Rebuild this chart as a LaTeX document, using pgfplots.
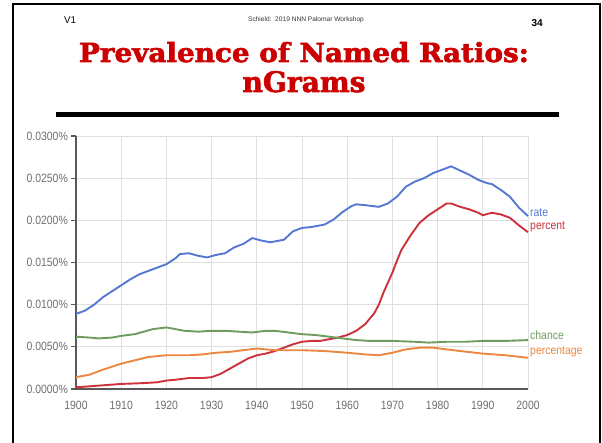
\documentclass[border=0pt]{standalone}
\usepackage{pgfplots}
\pgfplotsset{compat=1.18}
\usepackage{fontspec}
\setmainfont{Liberation Sans}
\newfontfamily\narrowfont{Liberation Sans}[FakeStretch=0.87]
\newfontfamily\titlefont{DejaVu Serif}[BoldFeatures={FakeBold=2.2}]
\definecolor{cRate}{RGB}{85,120,210}
\definecolor{cPercent}{RGB}{205,50,60}
\definecolor{cChance}{RGB}{110,155,95}
\definecolor{cPercentage}{RGB}{235,135,65}
\definecolor{titlered}{RGB}{204,0,0}
\definecolor{tickgray}{RGB}{110,110,110}
\begin{document}
\begin{tikzpicture}
\useasboundingbox (0,0) rectangle (602pt,-443pt);
% slide frame
\draw[line width=2.6pt] (13pt,-443pt) -- (13pt,-4pt) -- (600pt,-4pt) -- (600pt,-443pt);
% header
\node[anchor=base west, inner sep=0pt, font=\fontsize{9.8}{10}\selectfont] at (64pt,-24pt) {V1};
\node[anchor=base, inner sep=0pt, text=black!80, font=\fontsize{6.6}{7}\selectfont] at (306pt,-22pt) {Schield:\ \ 2019 NNN Palomar Workshop};
\node[anchor=base east, inner sep=0pt, font=\fontsize{10}{10}\bfseries\selectfont] at (543pt,-27pt) {34};
% title
\node[anchor=base, inner sep=0pt, text=titlered] at (304pt,-62pt) {\resizebox{450pt}{20pt}{\titlefont\bfseries Prevalence of Named Ratios:}};
\node[anchor=base, inner sep=0pt, text=titlered] at (304pt,-92pt) {\resizebox{123pt}{21pt}{\titlefont\bfseries nGrams}};
% rule
\fill (56pt,-112pt) rectangle (559pt,-117pt);
\begin{axis}[
  at={(76pt,-389pt)}, anchor=south west,
  scale only axis, width=452pt, height=253pt,
  xmin=1900, xmax=2000, ymin=0, ymax=300,
  axis x line=bottom, axis y line=left,
  axis line style={draw=gray!70!black, line width=1.3pt, -},
  xtick={1900,1910,...,2000},
  xticklabels={1900,1910,1920,1930,1940,1950,1960,1970,1980,1990,2000},
  ytick={0,50,100,150,200,250,300},
  yticklabels={0.0000\%,0.0050\%,0.0100\%,0.0150\%,0.0200\%,0.0250\%,0.0300\%},
  xmajorgrids, ymajorgrids,
  major grid style={draw=gray!25, line width=0.9pt},
  tick style={draw=gray!70!black, line width=1.2pt},
  x tick style={draw=none},
  major tick length=5pt,
  tick align=outside,
  ticklabel style={text=tickgray, font=\narrowfont\fontsize{12}{12}\selectfont},
  yticklabel style={inner sep=1pt, xshift=-2pt},
  xticklabel style={inner sep=2pt, yshift=-5pt},
  clip=false,
  every axis plot/.append style={line width=1.9pt, line join=round},
]
\addplot[cRate] coordinates {
(1900,89)(1902,93)(1904,100)(1906,109)(1908,116)(1910,123)(1912,130)(1914,136)(1916,140)(1918,144)(1920,148)(1922,155)(1923,160)(1925,161)(1927,158)(1929,156)(1931,159)(1933,161)(1935,168)(1937,172)(1939,179)(1941,176)(1943,174)(1945,176)(1946,177)(1948,187)(1950,191)(1952,192)(1955,195)(1957,201)(1959,210)(1961,217)(1962,219)(1964,218)(1967,216)(1969,220)(1971,228)(1973,240)(1975,246)(1977,250)(1979,256)(1981,260)(1983,264)(1985,259)(1987,254)(1989,248)(1991,244)(1992,243)(1994,236)(1996,228)(1998,215)(2000,205)
};
\addplot[cPercent] coordinates {
(1900,2)(1905,4)(1910,6)(1915,7)(1918,8)(1920,10)(1922,11)(1925,13)(1928,13)(1930,14)(1932,18)(1934,24)(1936,30)(1938,36)(1940,40)(1942,42)(1944,45)(1946,49)(1948,53)(1950,56)(1952,57)(1954,57)(1956,59)(1958,61)(1960,64)(1962,69)(1964,77)(1966,90)(1967,100)(1968,114)(1969,126)(1970,138)(1971,152)(1972,165)(1974,182)(1976,197)(1978,206)(1980,213)(1982,220)(1983,220)(1985,216)(1987,213)(1989,209)(1990,206)(1992,209)(1994,207)(1996,203)(1998,194)(2000,186)
};
\addplot[cChance] coordinates {
(1900,62)(1903,61)(1905,60)(1908,61)(1910,63)(1913,65)(1915,68)(1917,71)(1920,73)(1922,71)(1924,69)(1927,68)(1930,69)(1933,69)(1936,68)(1939,67)(1942,69)(1944,69)(1947,67)(1950,65)(1953,64)(1956,62)(1959,60)(1962,58)(1965,57)(1970,57)(1975,56)(1978,55)(1982,56)(1986,56)(1990,57)(1995,57)(2000,58)
};
\addplot[cPercentage] coordinates {
(1900,14)(1903,17)(1906,23)(1910,30)(1913,34)(1916,38)(1920,40)(1925,40)(1928,41)(1931,43)(1934,44)(1937,46)(1940,48)(1942,47)(1944,46)(1947,46)(1950,46)(1955,45)(1960,43)(1964,41)(1967,40)(1970,43)(1973,47)(1976,49)(1979,49)(1982,47)(1985,45)(1990,42)(1995,40)(2000,37)
};
\end{axis}
% series labels
\begin{scope}[every node/.style={anchor=west, inner sep=0pt, font=\narrowfont\fontsize{12}{12}\selectfont}]
\node[text=cRate] at (530pt,-213pt) {rate};
\node[text=cPercent] at (530pt,-227pt) {percent};
\node[text=cChance] at (530pt,-335pt) {chance};
\node[text=cPercentage] at (530pt,-352pt) {percentage};
\end{scope}
\end{tikzpicture}
\end{document}
